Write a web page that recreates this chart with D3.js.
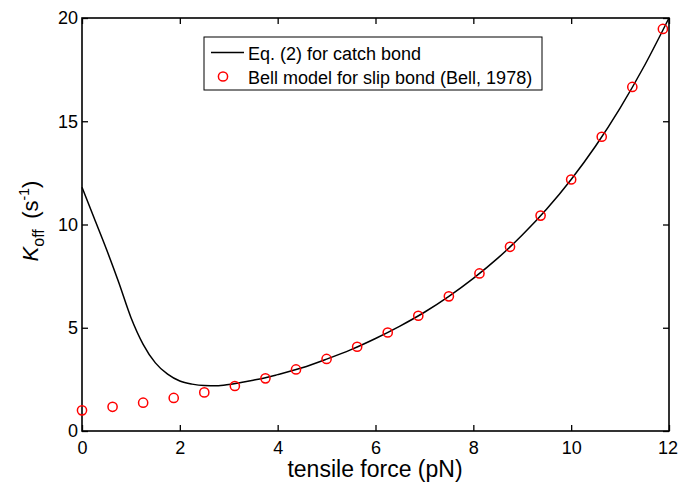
<!DOCTYPE html>
<html>
<head>
<meta charset="utf-8">
<script src="https://cdn.jsdelivr.net/npm/d3@7"></script>
<style>
  html, body { margin: 0; padding: 0; background: #fff; }
  svg { display: block; font-family: "Liberation Sans", Arial, sans-serif; }
</style>
</head>
<body>
<svg id="chart" width="678" height="485"></svg>
<script>
// Catch-bond off-rate curve, Eq. (2): force (pN) and k_off (1/s)
const catchForce = [0, 0.25, 0.5, 0.75, 1.0, 1.25, 1.5, 1.75, 2.0, 2.25, 2.5, 2.75, 3.0, 3.25, 3.5, 3.75, 4.0, 4.5, 5.0, 5.5, 6.0, 6.5, 7.0, 7.5, 8.0, 8.5, 9.0, 9.5, 10.0, 10.5, 11.0, 11.5, 12.0];
const catchKoff  = [11.8, 10.3, 8.8, 7.2, 5.5, 4.2, 3.3, 2.75, 2.42, 2.27, 2.2, 2.19, 2.25, 2.35, 2.46, 2.58, 2.73, 3.06, 3.48, 3.94, 4.48, 5.08, 5.75, 6.52, 7.39, 8.37, 9.49, 10.75, 12.18, 13.8, 15.64, 17.7, 20.0];

// Bell model slip-bond off-rate samples
const bellForce = [0, 0.625, 1.25, 1.875, 2.5, 3.125, 3.75, 4.375, 5.0, 5.625, 6.25, 6.875, 7.5, 8.125, 8.75, 9.375, 10.0, 10.625, 11.25, 11.875];
const bellKoff  = [1.00, 1.17, 1.37, 1.60, 1.87, 2.18, 2.55, 2.98, 3.49, 4.08, 4.77, 5.58, 6.52, 7.63, 8.92, 10.43, 12.18, 14.25, 16.66, 19.47];

const xTicks = [0, 2, 4, 6, 8, 10, 12];
const yTicks = [0, 5, 10, 15, 20];
const legendLabels = ["Eq. (2) for catch bond", "Bell model for slip bond (Bell, 1978)"];

const svg = d3.select("#chart");
const m = { left: 82, right: 669, top: 18, bottom: 431 };

const x = d3.scaleLinear().domain([0, 12]).range([m.left, m.right]);
const y = d3.scaleLinear().domain([0, 20]).range([m.bottom, m.top]);

const tickLen = 6;
const axisStyle = g => {
  g.selectAll(".domain").remove();
  g.selectAll(".tick line").attr("stroke", "#000").attr("stroke-width", 1.3);
  g.selectAll(".tick text").attr("fill", "#000").style("font-size", "18px")
    .style("font-family", "'Liberation Sans', Arial, sans-serif");
};

// bottom axis (ticks pointing inward)
const xAxisG = svg.append("g").attr("transform", `translate(0,${m.bottom})`)
  .call(d3.axisBottom(x).tickValues(xTicks).tickSize(-tickLen).tickPadding(10).tickFormat(d3.format("d")))
  .call(axisStyle);
// keep the last label inside the page edge
xAxisG.selectAll(".tick text").filter(d => d === 12).attr("dx", -1.5);
// top axis, ticks only
svg.append("g").attr("transform", `translate(0,${m.top})`)
  .call(d3.axisTop(x).tickValues(xTicks).tickSize(-tickLen).tickFormat(""))
  .call(axisStyle);
// left axis
svg.append("g").attr("transform", `translate(${m.left},0)`)
  .call(d3.axisLeft(y).tickValues(yTicks).tickSize(-tickLen).tickPadding(4).tickFormat(d3.format("d")))
  .call(axisStyle);
// right axis, ticks only
svg.append("g").attr("transform", `translate(${m.right},0)`)
  .call(d3.axisRight(y).tickValues(yTicks).tickSize(-tickLen).tickFormat(""))
  .call(axisStyle);

// plot frame
svg.append("rect")
  .attr("x", m.left).attr("y", m.top)
  .attr("width", m.right - m.left).attr("height", m.bottom - m.top)
  .attr("fill", "none").attr("stroke", "#000").attr("stroke-width", 1.6);

// catch-bond curve
const catchData = catchForce.map((f, i) => [f, catchKoff[i]]);
svg.append("path")
  .datum(catchData)
  .attr("fill", "none").attr("stroke", "#000").attr("stroke-width", 1.5)
  .attr("d", d3.line().x(d => x(d[0])).y(d => y(d[1])).curve(d3.curveMonotoneX));

// Bell model markers
const bellData = bellForce.map((f, i) => [f, bellKoff[i]]);
svg.append("g").selectAll("circle")
  .data(bellData).join("circle")
  .attr("cx", d => x(d[0])).attr("cy", d => y(d[1])).attr("r", 4.6)
  .attr("fill", "none").attr("stroke", "#ff0000").attr("stroke-width", 1.5);

// axis titles
svg.append("text")
  .attr("x", 375).attr("y", 477)
  .attr("text-anchor", "middle").style("font-size", "23px").attr("fill", "#000")
  .text("tensile force (pN)");

const yt = svg.append("text")
  .attr("transform", "translate(38,221) rotate(-90)")
  .attr("text-anchor", "middle").attr("fill", "#000").style("font-size", "22px");
yt.append("tspan").style("font-style", "italic").text("K");
yt.append("tspan").attr("dy", 6).style("font-size", "16px").text("off");
yt.append("tspan").attr("dy", -6).text("\u2009 (s");
yt.append("tspan").attr("dy", -9).style("font-size", "14px").text("-1");
yt.append("tspan").attr("dy", 9).text(")");

// legend
const lg = svg.append("g");
lg.append("rect").attr("x", 204).attr("y", 37).attr("width", 338).attr("height", 53)
  .attr("fill", "#fff").attr("stroke", "#000").attr("stroke-width", 1);
lg.append("line").attr("x1", 211).attr("x2", 244).attr("y1", 52.5).attr("y2", 52.5)
  .attr("stroke", "#000").attr("stroke-width", 1.5);
lg.append("circle").attr("cx", 223).attr("cy", 76.5).attr("r", 4.6)
  .attr("fill", "none").attr("stroke", "#ff0000").attr("stroke-width", 1.5);
lg.selectAll("text.lab").data(legendLabels).join("text").attr("class", "lab")
  .attr("x", 248).attr("y", (d, i) => 59.5 + i * 24)
  .style("font-size", "18px").attr("fill", "#000").text(d => d);
</script>
</body>
</html>
